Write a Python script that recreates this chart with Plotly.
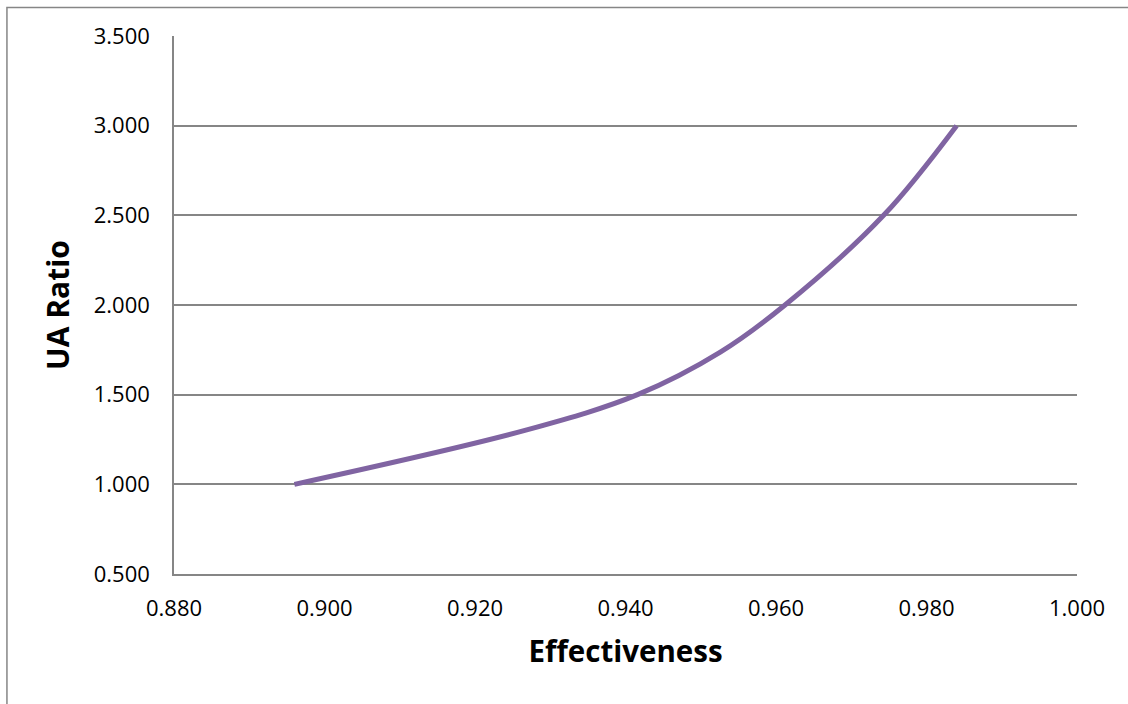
import plotly.graph_objects as go

# Effectiveness vs. UA ratio
effectiveness = [0.8960, 0.9270, 0.9416, 0.9526, 0.9612, 0.9743, 0.9840]
ua_ratio = [1.000, 1.305, 1.500, 1.737, 2.000, 2.500, 3.000]

x_ticks = [0.88, 0.90, 0.92, 0.94, 0.96, 0.98, 1.00]
y_ticks = [0.5, 1.0, 1.5, 2.0, 2.5, 3.0, 3.5]

GRID = "#868686"
FONT = "Open Sans, Liberation Sans, sans-serif"

fig = go.Figure()
fig.add_trace(go.Scatter(
    x=effectiveness, y=ua_ratio, mode="lines",
    line=dict(color="#8064A2", width=5, shape="spline", smoothing=1.0),
    showlegend=False, hoverinfo="x+y",
))

fig.update_layout(
    width=1128, height=704,
    margin=dict(l=174, r=51, t=36, b=130),
    paper_bgcolor="white", plot_bgcolor="white",
    font=dict(family=FONT, size=22, color="#000000"),
    xaxis=dict(
        range=[0.88, 1.0], tickvals=x_ticks, tickformat=".3f",
        showgrid=False, zeroline=False,
        showline=True, linecolor=GRID, linewidth=1.5,
        ticks="", ticklabelstandoff=14,
        title=dict(text="<b>Effectiveness</b>", font=dict(size=29.5), standoff=20),
    ),
    yaxis=dict(
        range=[0.5, 3.5], tickvals=y_ticks, tickformat=".3f",
        showgrid=True, gridcolor=GRID, gridwidth=1.5,
        zeroline=False, showline=True, linecolor=GRID, linewidth=1.5,
        ticks="", ticklabelstandoff=18,
        title=dict(text="<b>UA Ratio</b>", font=dict(size=30), standoff=15),
    ),
    shapes=[dict(
        type="rect", xref="paper", yref="paper",
        x0=-0.185, x1=1.3, y0=-0.6, y1=1.053,
        line=dict(color=GRID, width=1.5), fillcolor="rgba(0,0,0,0)", layer="below",
    )],
)

fig.write_html("out.html")
